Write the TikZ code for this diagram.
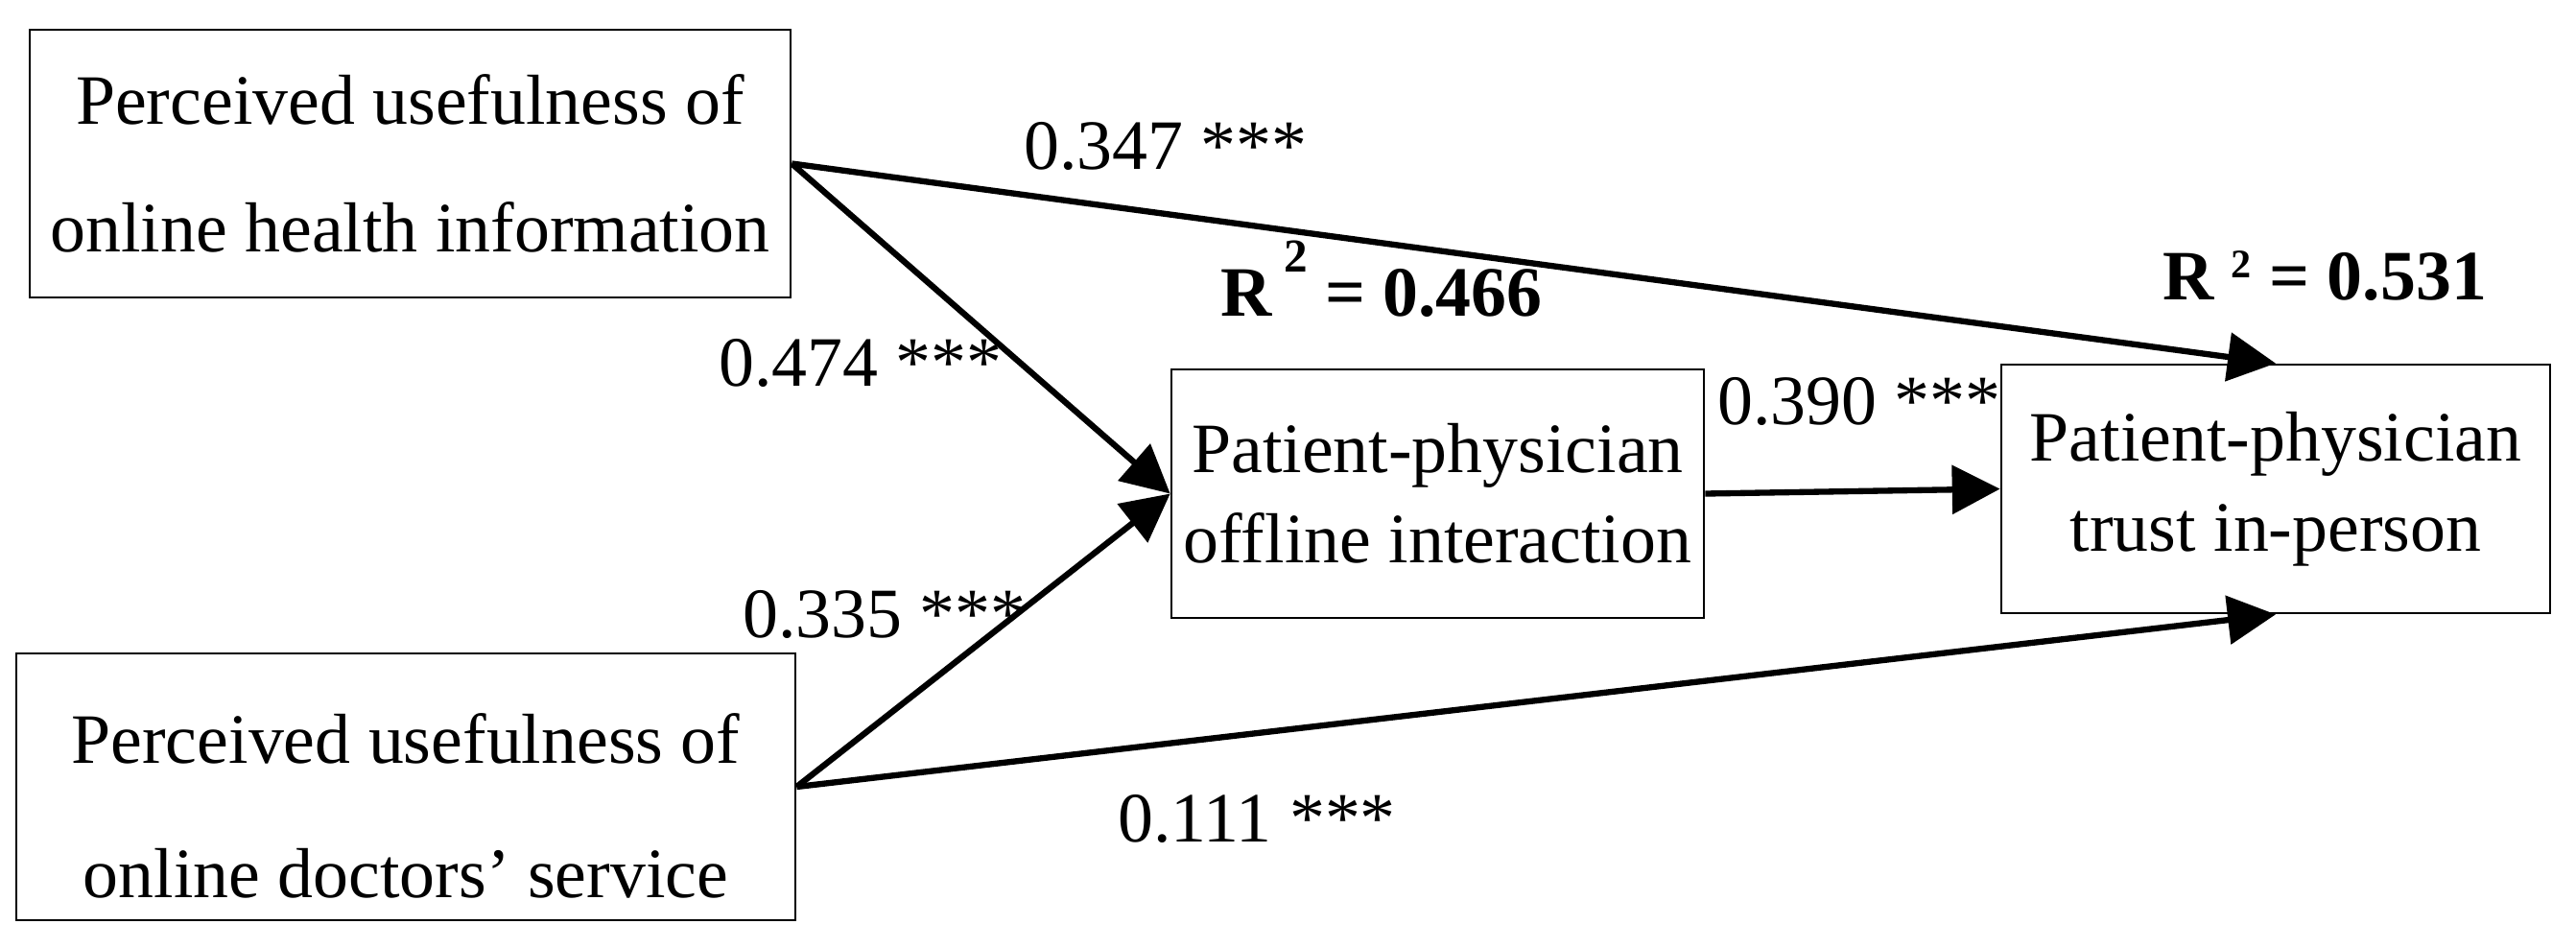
\documentclass[tikz,border=0pt]{standalone}
\usepackage{fontspec}
\setmainfont{Liberation Serif}
\usetikzlibrary{arrows.meta}
\begin{document}
\begin{tikzpicture}[x=1cm,y=1cm,
  box/.style={draw, line width=0.75pt, inner sep=0pt, align=center},
  bigbox/.style={box, font=\fontsize{21}{38}\selectfont},
  smallbox/.style={box, font=\fontsize{21}{26.7}\selectfont},
  coef/.style={font=\fontsize{21}{25}\selectfont, anchor=base, inner sep=0pt},
  rsq/.style={font=\fontsize{21}{25}\selectfont\bfseries, anchor=base, inner sep=0pt},
  conn/.style={line width=1.8pt, -{Triangle[length=0.5cm,width=0.5cm]}}
]
\useasboundingbox (0,0) rectangle (26.85,-9.87);
\node[bigbox, minimum width=7.93cm, minimum height=2.79cm] (A) at (4.275,-1.705) {Perceived usefulness of\\online health information};
\node[bigbox, font=\fontsize{21}{40}\selectfont, minimum width=8.12cm, minimum height=2.78cm] (B) at (4.23,-8.20) {\rule{0pt}{26pt}Perceived usefulness of\\online doctors’ service};
\node[smallbox, minimum width=5.55cm, minimum height=2.59cm] (C) at (14.985,-5.145) {Patient-physician\\offline interaction};
\node[smallbox, minimum width=5.72cm, minimum height=2.59cm] (D) at (23.72,-5.095) {Patient-physician\\trust in-person};

\draw[conn] (A.east) -- (D.north);
\draw[conn] (A.east) -- (C.west);
\draw[conn] (B.east) -- (C.west);
\draw[conn] (B.east) -- (D.south);
\draw[conn] (C.east) -- (D.west);

\node[coef] (l347) at (12.15,-1.76) {0.347 ***};
\node[coef] (l474) at (8.97,-4.02) {0.474 ***};
\node[coef] (l335) at (9.22,-6.64) {0.335 ***};
\node[coef] (l390) at (19.38,-4.42) {0.390 ***};
\node[coef] (l111) at (13.10,-8.77) {0.111 ***};
\node[rsq] (r466) at (14.40,-3.29) {R\,\raisebox{13pt}{\fontsize{14}{14}\selectfont 2}\ = 0.466};
\node[rsq] (r531) at (24.23,-3.12) {R \raisebox{6.5pt}{\fontsize{12}{12}\selectfont 2} = 0.531};
\end{tikzpicture}
\end{document}
